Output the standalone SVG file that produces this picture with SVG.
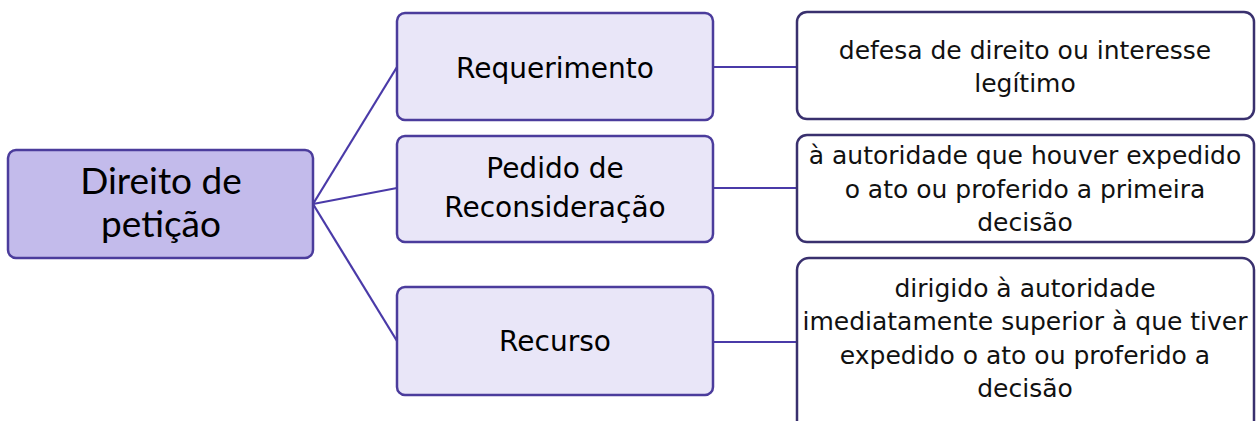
<svg xmlns="http://www.w3.org/2000/svg" width="1256" height="421" viewBox="0 0 1256 421">
<style>
.root{fill:#c3bbeb;stroke:#4b3c9c;stroke-width:2.5}
.mid{fill:#e9e6f8;stroke:#4b3c9c;stroke-width:2.5}
.leaf{fill:#ffffff;stroke:#39306e;stroke-width:2.5}
.conn{stroke:#4a3aa8;stroke-width:2.2;fill:none}
.tr{font-family:"Lato","Noto Sans",sans-serif;font-size:37px;fill:#000;text-anchor:middle}
.tm{font-family:"DejaVu Sans","Noto Sans",sans-serif;font-size:28px;fill:#000;text-anchor:middle}
.tl{font-family:"DejaVu Sans","Noto Sans",sans-serif;font-size:25px;fill:#111;text-anchor:middle}
</style>
<rect width="1256" height="421" fill="#fff"/>
<g id="connectors">
<line class="conn" x1="313" y1="204" x2="397" y2="67"/>
<line class="conn" x1="313" y1="204" x2="397" y2="188"/>
<line class="conn" x1="313" y1="204" x2="397" y2="341"/>
<line class="conn" x1="713" y1="67" x2="797" y2="67"/>
<line class="conn" x1="713" y1="188" x2="797" y2="188"/>
<line class="conn" x1="713" y1="342" x2="797" y2="342"/>
</g>
<g id="root">
<rect class="root" x="8" y="150" width="305" height="108" rx="8"/>
<text class="tr" x="161" y="194">Direito de</text>
<text class="tr" x="161" y="237">petição</text>
</g>
<g id="requerimento">
<rect class="mid" x="397" y="13" width="316" height="107" rx="8"/>
<text class="tm" x="555" y="78">Requerimento</text>
</g>
<g id="pedido">
<rect class="mid" x="397" y="136" width="316" height="106" rx="8"/>
<text class="tm" x="555" y="178">Pedido de</text>
<text class="tm" x="555" y="217">Reconsideração</text>
</g>
<g id="recurso">
<rect class="mid" x="397" y="287" width="316" height="108" rx="8"/>
<text class="tm" x="555" y="351">Recurso</text>
</g>
<g id="leaf1">
<rect class="leaf" x="797" y="12" width="457" height="107" rx="10"/>
<text class="tl" x="1025" y="59">defesa de direito ou interesse</text>
<text class="tl" x="1025" y="92">legítimo</text>
</g>
<g id="leaf2">
<rect class="leaf" x="797" y="135" width="457" height="107" rx="10"/>
<text class="tl" x="1025" y="164">à autoridade que houver expedido</text>
<text class="tl" x="1025" y="198">o ato ou proferido a primeira</text>
<text class="tl" x="1025" y="231">decisão</text>
</g>
<g id="leaf3">
<rect class="leaf" x="797" y="258" width="457" height="175" rx="12"/>
<text class="tl" x="1025" y="297">dirigido à autoridade</text>
<text class="tl" x="1025" y="330">imediatamente superior à que tiver</text>
<text class="tl" x="1025" y="364">expedido o ato ou proferido a</text>
<text class="tl" x="1025" y="397">decisão</text>
</g>
</svg>
